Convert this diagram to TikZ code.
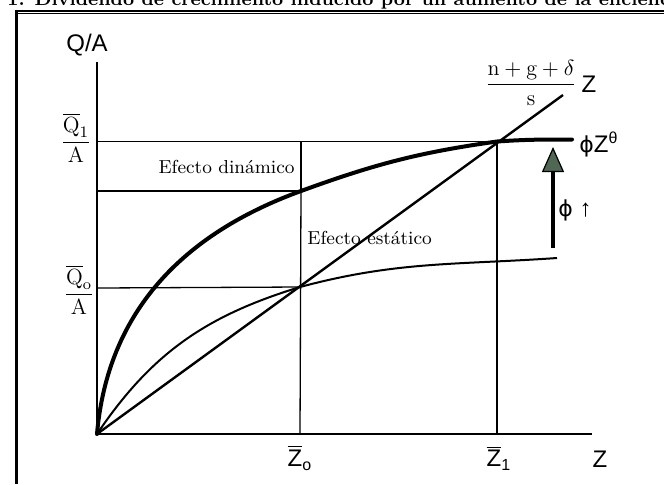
\documentclass[tikz,border=0pt]{standalone}
\usepackage{amsmath}
\usepackage{fontspec}
\setsansfont{Liberation Sans}
\newfontfamily\phifont{DejaVu Sans}
\usetikzlibrary{arrows.meta,positioning}
\definecolor{arrowgreen}{RGB}{78,104,84}

\begin{document}
\begin{tikzpicture}[x=0.5pt,y=-0.5pt]
\tikzset{
  frameline/.style={line width=1.5pt, draw=black},
  axis/.style={line width=1.4pt, draw=black},
  guide/.style={line width=0.65pt, draw=black},
  bracket/.style={line width=1.3pt, draw=black},
  rayline/.style={line width=1.2pt, draw=black},
  lowcurve/.style={line width=1pt, draw=black},
  highcurve/.style={line width=2pt, draw=black, line cap=round},
  shiftarrow/.style={-{Triangle[length=12.5pt,width=11pt,fill=arrowgreen,line width=0.6pt]}, line width=2pt, draw=black},
  title/.style={font=\fontsize{9.4}{11}\selectfont\bfseries, inner sep=0pt},
  lab/.style={font=\fontsize{12}{14}\selectfont\sffamily, inner sep=1pt},
  effect/.style={font=\fontsize{9.4}{11}\selectfont, inner sep=1pt},
  level/.style={font=\fontsize{11}{13}\selectfont, inner sep=0pt}
}
\useasboundingbox (0,0) rectangle (664,484);
\clip (0,0) rectangle (664,484);
\fill[white] (0,0) rectangle (664,484);

\node[title, anchor=base west] (title) at (7,5) {1. Dividendo de crecimiento inducido por un aumento de la eficiencia};

% frame
\coordinate (fcorner) at (15,10.5);
\coordinate (fright) at (664,10.5);
\draw[frameline] (16.5,10.5) -- (16.5,484);
\draw[line width=1pt] (fcorner) -- (fright);
\draw[line width=0.75pt] (15,13.5) -- (664,13.5);

% axes
\coordinate (O) at (97,434);
\coordinate (ytop) at (97,62);
\coordinate (xend) at (592,434);
\draw[axis] (ytop) -- (O) -- (xend);
\node[lab] (qa) at (87,45) {Q/A};
\node[lab] (zaxis) at (600,459) {Z};

% levels
\coordinate (Q1) at (97,141.5);
\coordinate (Qd) at (97,191);
\coordinate (Q0) at (97,288);
\coordinate (T) at (301,141.5);
\coordinate (D) at (301,191);
\coordinate (E0) at (300,287);
\coordinate (E1) at (497,141.5);
\coordinate (Z0) at (300,434);
\coordinate (Z1) at (497,434);
\coordinate (Lend) at (563,95);
\coordinate (Cend) at (572,139.5);
\coordinate (Lowend) at (557,258);

\draw[guide] (Q1) -- (E1);
\draw[guide] (Qd) -- (D);
\draw[guide] (Q0) -- (E0);
\draw[bracket] (T) -- (D);
\draw[guide] (D) -- (Z0);
\draw[guide] (E1) -- (Z1);

\node[level, anchor=base] (q1) at (76,147.5) {$\dfrac{\overline{\mathrm{Q}}_1}{\mathrm{A}}$};
\node[level, anchor=base] (q0) at (79,299.5) {$\dfrac{\overline{\mathrm{Q}}_{\mathrm{o}}}{\mathrm{A}}$};
\node[lab] (z0) at (300,458) {$\overline{\textsf{Z}}_{\textsf{o}}$};
\node[lab] (z1) at (499,458) {$\overline{\textsf{Z}}_{\textsf{1}}$};

% investment line and production curves
\draw[rayline] (O) -- (Lend);
\draw[lowcurve] (O) to[out=56,in=197] (E0) to[out=15,in=184] (Lowend);
\draw[highcurve] (O) to[out=85,in=200] (D) to[out=20,in=188] (E1) to[out=4,in=180] (Cend);

\node[level, anchor=base] (ray) at (531,90) {$\dfrac{\mathrm{n}+\mathrm{g}+\delta}{\mathrm{s}}$};
\node[lab, right=1pt of ray.east, anchor=west, yshift=-1pt] (rayz) {Z};
\node[lab, anchor=base west] (phiz) at (577,152) {{\phifont\fontsize{11}{13}\selectfont ϕ}Z\textsuperscript{θ}};

\node[effect, anchor=east] (dyn) at (297,167) {Efecto dinámico};
\node[effect, anchor=west] (stat) at (305,238) {Efecto estático};

% efficiency shift
\coordinate (shiftbase) at (553,248);
\coordinate (shifttip) at (553,147);
\draw[shiftarrow] (shiftbase) -- (shifttip);
\node[lab] (phiup) at (575,210) {{\phifont\fontsize{11}{13}\selectfont ϕ} ↑};
\end{tikzpicture}
\end{document}
